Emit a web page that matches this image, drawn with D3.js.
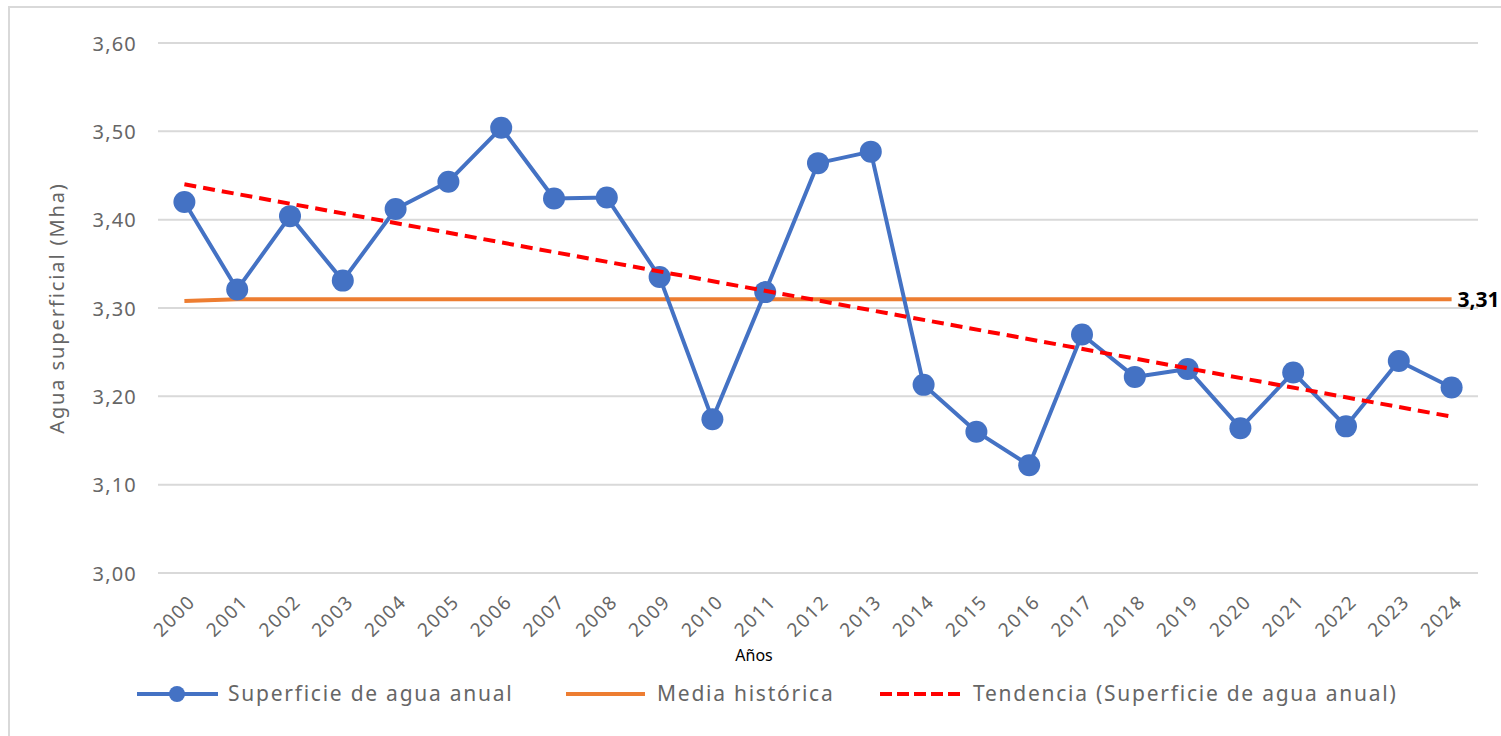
<!DOCTYPE html>
<html><head><meta charset="utf-8">
<script src="https://cdn.jsdelivr.net/npm/d3@7"></script>
<style>
html,body{margin:0;padding:0;background:#fff;overflow:hidden}
text{font-family:"Noto Sans","Open Sans",sans-serif}
</style></head>
<body><svg id="c" width="1501" height="736"></svg>
<script>
const years = ["2000","2001","2002","2003","2004","2005","2006","2007","2008","2009","2010","2011","2012","2013","2014","2015","2016","2017","2018","2019","2020","2021","2022","2023","2024"];
const superficie = [3.420,3.321,3.404,3.331,3.412,3.443,3.504,3.424,3.425,3.335,3.174,3.318,3.464,3.477,3.213,3.160,3.122,3.270,3.222,3.231,3.164,3.227,3.166,3.240,3.210];
const media = [3.308,3.310,3.310,3.310,3.310,3.310,3.310,3.310,3.310,3.310,3.310,3.310,3.310,3.310,3.310,3.310,3.310,3.310,3.310,3.310,3.310,3.310,3.310,3.310,3.310];
const tendencia = [{year:"2000", v:3.440},{year:"2024", v:3.177}];
const yTicks = [3.00,3.10,3.20,3.30,3.40,3.50,3.60];
const mediaLabel = "3,31";
const seriesNames = ["Superficie de agua anual","Media histórica","Tendencia (Superficie de agua anual)"];

const svg = d3.select("#c");
const fmt = v => v.toFixed(2).replace(".", ",");
const grey = "#666666";

// border
svg.append("rect").attr("x",9).attr("y",7).attr("width",1600).attr("height",800)
  .attr("fill","none").attr("stroke","#d9d9d9").attr("stroke-width",2);

const x = d3.scaleBand().domain(years).range([158,1478]);
const cx = d => x(d) + x.bandwidth()/2;
const y = d3.scaleLinear().domain([3.0,3.6]).range([573,43]);

// grid
svg.append("g").selectAll("line").data(yTicks).join("line")
  .attr("x1",158).attr("x2",1478).attr("y1",d=>y(d)).attr("y2",d=>y(d))
  .attr("stroke","#d9d9d9").attr("stroke-width",2);

// y axis labels
const yAxis = d3.axisLeft(y).tickValues(yTicks).tickFormat(fmt).tickSize(0).tickPadding(0);
const ga = svg.append("g").attr("transform","translate(137,0)").call(yAxis);
ga.select(".domain").remove();
ga.selectAll("text").attr("font-size",20).attr("fill",grey).attr("font-family","Noto Sans")
  .attr("letter-spacing","1.2px").attr("dy","0.35em");

// x axis labels
const xAxis = d3.axisBottom(x).tickSize(0).tickPadding(0);
const gx = svg.append("g").attr("transform","translate(0,573)").call(xAxis);
gx.select(".domain").remove();
gx.selectAll("text").attr("font-size",19).attr("fill",grey).attr("font-family","Noto Sans")
  .attr("letter-spacing","1.5px")
  .attr("text-anchor","end").attr("dy",0).attr("y",0)
  .attr("transform","translate(12,30) rotate(-45)");

// axis titles
svg.append("text").attr("transform","translate(64,308) rotate(-90)")
  .attr("text-anchor","middle").attr("font-size",20).attr("letter-spacing","1.9px")
  .attr("fill",grey).text("Agua superficial (Mha)");
svg.append("text").attr("x",754).attr("y",661).attr("text-anchor","middle")
  .attr("font-size",16).attr("fill","#000").text("Años");

// media line
svg.append("path").datum(media)
  .attr("d", d3.line().x((d,i)=>cx(years[i])).y(d=>y(d)))
  .attr("fill","none").attr("stroke","#ED7D31").attr("stroke-width",4);

// superficie
svg.append("path").datum(superficie)
  .attr("d", d3.line().x((d,i)=>cx(years[i])).y(d=>y(d)))
  .attr("fill","none").attr("stroke","#4472C4").attr("stroke-width",4).attr("stroke-linejoin","round");
svg.append("g").selectAll("circle").data(superficie).join("circle")
  .attr("cx",(d,i)=>cx(years[i])).attr("cy",d=>y(d)).attr("r",11).attr("fill","#4472C4");

// trend
svg.append("path").datum(tendencia)
  .attr("d", d3.line().x(d=>cx(d.year)).y(d=>y(d.v)))
  .attr("fill","none").attr("stroke","#FF0000").attr("stroke-width",4).attr("stroke-dasharray","12,7");

// label
svg.append("text").attr("x",cx(years[years.length-1])+6).attr("y",y(media[media.length-1])).attr("dy","0.35em")
  .attr("font-size",21).attr("font-weight","bold").attr("fill","#000").text(mediaLabel);

// legend
const ly = 694;
const lg = svg.append("g");
const ls = {"font-size":21, "letter-spacing":"1.75px"};
lg.append("line").attr("x1",137).attr("x2",218).attr("y1",ly).attr("y2",ly).attr("stroke","#4472C4").attr("stroke-width",4);
lg.append("circle").attr("cx",177).attr("cy",ly).attr("r",8).attr("fill","#4472C4");
lg.append("text").attr("x",228).attr("y",ly).attr("dy","0.35em").attr("font-size",ls["font-size"]).attr("letter-spacing",ls["letter-spacing"]).attr("fill",grey).text(seriesNames[0]);
lg.append("line").attr("x1",566).attr("x2",645).attr("y1",ly).attr("y2",ly).attr("stroke","#ED7D31").attr("stroke-width",4);
lg.append("text").attr("x",657).attr("y",ly).attr("dy","0.35em").attr("font-size",ls["font-size"]).attr("letter-spacing",ls["letter-spacing"]).attr("fill",grey).text(seriesNames[1]);
lg.append("line").attr("x1",880).attr("x2",965).attr("y1",ly).attr("y2",ly).attr("stroke","#FF0000").attr("stroke-width",4).attr("stroke-dasharray","12,5");
lg.append("text").attr("x",973).attr("y",ly).attr("dy","0.35em").attr("font-size",ls["font-size"]).attr("letter-spacing",ls["letter-spacing"]).attr("fill",grey).text(seriesNames[2]);
</script></body></html>
